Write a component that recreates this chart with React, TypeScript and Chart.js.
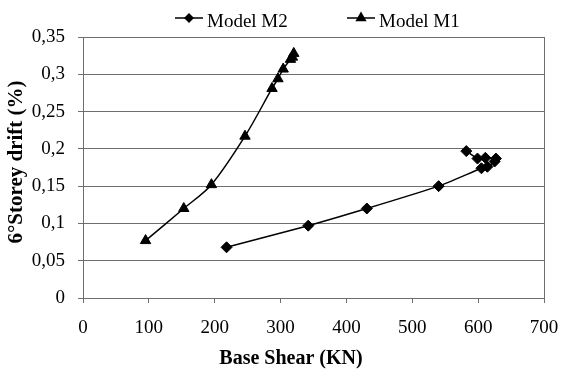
import React, { useEffect, useRef } from 'react';
import { Chart, registerables } from 'chart.js';

Chart.register(...registerables);

// Data (Base Shear in KN, 6° storey drift in %)
const seriesLabels = ['Model M2', 'Model M1'];
const m2Shear = [218, 342, 431, 540, 605, 614, 625, 627, 611, 599, 582];
const m2Drift = [0.068, 0.097, 0.12, 0.15, 0.174, 0.176, 0.183, 0.187, 0.188, 0.187, 0.197];
const m1Shear = [95, 153, 195, 246, 287, 296, 304, 315, 318, 320];
const m1Drift = [0.077, 0.12, 0.152, 0.217, 0.281, 0.294, 0.307, 0.32, 0.323, 0.328];
const xTicks = [0, 100, 200, 300, 400, 500, 600, 700];
const yTicks = [0, 0.05, 0.1, 0.15, 0.2, 0.25, 0.3, 0.35];
const xTitle = 'Base Shear (KN)';
const yTitle = '6°Storey drift (%)';

const FONT = '"Liberation Serif", "Times New Roman", serif';
const GRID = '#6e6e6e';

function drawMarker(ctx: CanvasRenderingContext2D, style: string, x: number, y: number, r: number) {
  ctx.beginPath();
  if (style === 'triangle') {
    ctx.moveTo(x, y - r);
    ctx.lineTo(x + r * Math.cos(Math.PI / 6), y + r / 2);
    ctx.lineTo(x - r * Math.cos(Math.PI / 6), y + r / 2);
  } else {
    ctx.moveTo(x, y - r);
    ctx.lineTo(x + r, y);
    ctx.lineTo(x, y + r);
    ctx.lineTo(x - r, y);
  }
  ctx.closePath();
  ctx.fill();
}

const legendAndTitles = {
  id: 'legendAndTitles',
  afterDraw(chart: any) {
    const ctx: CanvasRenderingContext2D = chart.ctx;
    ctx.save();
    const legendX = [175, 347];
    const styles = ['rectRot', 'triangle'];
    const radii = [5, 6.5];
    chart.data.datasets.forEach((ds: any, i: number) => {
      const x0 = legendX[i];
      const y = 18;
      ctx.strokeStyle = '#000';
      ctx.fillStyle = '#000';
      ctx.lineWidth = 1.5;
      ctx.beginPath();
      ctx.moveTo(x0, y);
      ctx.lineTo(x0 + 28, y);
      ctx.stroke();
      drawMarker(ctx, styles[i], x0 + 14, y, radii[i]);
      ctx.font = `19px ${FONT}`;
      ctx.textAlign = 'left';
      ctx.textBaseline = 'alphabetic';
      ctx.fillText(ds.label, x0 + 32, 27);
    });
    ctx.fillStyle = '#000';
    ctx.font = `bold 20px ${FONT}`;
    ctx.textAlign = 'center';
    ctx.textBaseline = 'alphabetic';
    ctx.fillText(xTitle, 291, 364);
    ctx.translate(17, 162);
    ctx.rotate(-Math.PI / 2);
    ctx.textBaseline = 'middle';
    ctx.font = `bold 21px ${FONT}`;
    ctx.fillText(yTitle, 0, 0);
    ctx.restore();
  },
};

export default function App() {
  const ref = useRef<HTMLCanvasElement | null>(null);

  useEffect(() => {
    if (!ref.current) return;
    const chart = new Chart(ref.current, {
      type: 'scatter',
      data: {
        datasets: [
          {
            label: seriesLabels[0],
            data: m2Shear.map((x, i) => ({ x, y: m2Drift[i] })),
            showLine: true,
            borderColor: '#000',
            backgroundColor: '#000',
            borderWidth: 1.5,
            pointStyle: 'rectRot',
            pointRadius: 5.5,
            pointBorderWidth: 1,
            pointBackgroundColor: '#000',
            pointBorderColor: '#000',
            tension: 0.15,
          },
          {
            label: seriesLabels[1],
            data: m1Shear.map((x, i) => ({ x, y: m1Drift[i] })),
            showLine: true,
            borderColor: '#000',
            backgroundColor: '#000',
            borderWidth: 1.5,
            pointStyle: 'triangle',
            pointRadius: 6,
            pointBorderWidth: 1,
            pointBackgroundColor: '#000',
            pointBorderColor: '#000',
            tension: 0.3,
          },
        ],
      },
      options: {
        responsive: false,
        animation: false,
        layout: { padding: { top: 37, right: 18, left: 0, bottom: 0 } },
        plugins: {
          legend: { display: false },
          tooltip: { enabled: false },
          title: { display: false },
        },
        scales: {
          x: {
            type: 'linear',
            min: 0,
            max: 700,
            afterBuildTicks: (scale: any) => {
              scale.ticks = xTicks.map((v) => ({ value: v }));
            },
            afterFit: (scale: any) => {
              scale.height = 71;
              scale.paddingLeft = 0;
              scale.paddingRight = 0;
            },
            ticks: {
              color: '#000',
              font: { family: FONT, size: 19 },
              padding: 14,
              maxRotation: 0,
              autoSkip: false,
            },
            grid: {
              color: (c: any) => (c.index === xTicks.length - 1 ? GRID : 'rgba(0,0,0,0)'),
              tickColor: GRID,
              tickLength: 5,
              drawOnChartArea: true,
            },
            border: { color: GRID, width: 1 },
          },
          y: {
            type: 'linear',
            min: 0,
            max: 0.35,
            afterBuildTicks: (scale: any) => {
              scale.ticks = yTicks.map((v) => ({ value: v }));
            },
            afterFit: (scale: any) => {
              scale.width = 83;
              scale.paddingTop = 0;
              scale.paddingBottom = 0;
            },
            ticks: {
              color: '#000',
              font: { family: FONT, size: 19 },
              padding: 13,
              autoSkip: false,
              callback: (v: any) => Number(Number(v).toFixed(2)).toString().replace('.', ','),
            },
            grid: {
              color: GRID,
              tickColor: GRID,
              tickLength: 5,
            },
            border: { color: GRID, width: 1 },
          },
        },
      },
      plugins: [legendAndTitles],
    });
    return () => chart.destroy();
  }, []);

  return (
    <div style={{ position: 'absolute', left: 0, top: 0, width: 562, height: 369, background: '#fff' }}>
      <canvas ref={ref} width={562} height={369} style={{ display: 'block' }} />
    </div>
  );
}
